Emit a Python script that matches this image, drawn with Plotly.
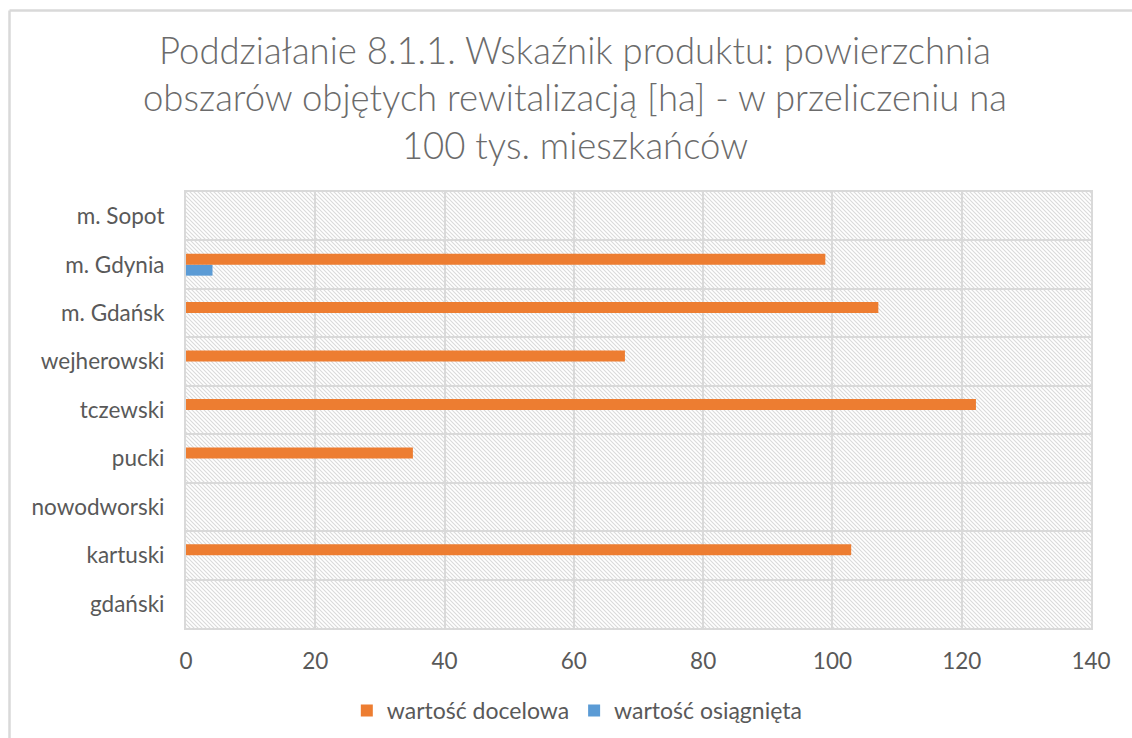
import base64
import plotly.graph_objects as go

# Categories listed bottom-to-top on the vertical axis
powiaty = ["gdański", "kartuski", "nowodworski", "pucki", "tczewski",
           "wejherowski", "m. Gdańsk", "m. Gdynia", "m. Sopot"]
wartosc_docelowa = [0, 102.9, 0, 35.1, 122.2, 67.9, 107.1, 98.9, 0]
wartosc_osiagnieta = [0, 0, 0, 0, 0, 0, 0, 4.1, 0]
x_ticks = [0, 20, 40, 60, 80, 100, 120, 140]

W, H = 1132, 738
L, R, T, B = 186, 41, 192, 110
PW, PH = W - L - R, H - T - B

ORANGE = "#ED7D31"
BLUE = "#5B9BD5"
TEXT = "#595959"
GRID = "#d9d9d9"
FONT = "Lato, 'Open Sans', sans-serif"

# light diagonal hatch for the plotting area
hatch_svg = f"""<svg xmlns='http://www.w3.org/2000/svg' width='{PW}' height='{PH}'>
<defs><pattern id='h' width='4' height='4' patternUnits='userSpaceOnUse'>
<rect width='4' height='4' fill='white'/>
<path d='M-1,-1 L5,5 M-1,3 L1,5 M3,-1 L5,1' stroke='#dadada' stroke-width='1.1'/>
</pattern></defs>
<rect width='{PW}' height='{PH}' fill='url(#h)'/></svg>"""
hatch_uri = "data:image/svg+xml;base64," + base64.b64encode(hatch_svg.encode()).decode()


def px_x(px):
    return (px - L) / PW


def px_y(py):
    return (H - B - py) / PH


fig = go.Figure()
fig.add_trace(go.Bar(
    y=powiaty, x=wartosc_osiagnieta, orientation="h",
    name="wartość osiągnięta", marker=dict(color=BLUE, line=dict(width=0)),
))
fig.add_trace(go.Bar(
    y=powiaty, x=wartosc_docelowa, orientation="h",
    name="wartość docelowa", marker=dict(color=ORANGE, line=dict(width=0)),
))

fig.update_layout(
    width=W, height=H,
    margin=dict(l=L, r=R, t=T, b=B, autoexpand=False),
    paper_bgcolor="white", plot_bgcolor="white",
    barmode="group", bargap=0.546, bargroupgap=0,
    font=dict(family=FONT, color=TEXT, size=22.5),
    title=dict(
        text="Poddziałanie 8.1.1. Wskaźnik produktu: powierzchnia<br>"
             "obszarów objętych rewitalizacją [ha] - w przeliczeniu na<br>"
             "100 tys. mieszkańców",
        x=575 / W, xanchor="center", xref="container",
        y=1 - 64 / H, yanchor="top", yref="container",
        font=dict(family=FONT, size=36.5, color="#6b6b6b", weight=300),
    ),
    legend=dict(
        orientation="h", traceorder="reversed",
        x=0.51, xanchor="center", xref="container",
        y=1 - 689 / H, yanchor="top", yref="container",
        font=dict(size=23, color=TEXT), itemwidth=30,
    ),
    xaxis=dict(
        range=[0, 140], tickvals=x_ticks, showgrid=True, gridcolor=GRID, gridwidth=2,
        zeroline=False, showline=True, linecolor=GRID, linewidth=2, mirror=True,
        ticks="", ticklabelstandoff=12, fixedrange=True,
        tickfont=dict(size=22.5),
    ),
    yaxis=dict(
        type="category", categoryorder="array", categoryarray=powiaty,
        tickson="boundaries", showgrid=True, gridcolor=GRID, gridwidth=2,
        showline=True, linecolor=GRID, linewidth=2, mirror=True,
        ticks="", ticklabelstandoff=15, fixedrange=True,
    ),
    images=[dict(
        source=hatch_uri, xref="paper", yref="paper", x=0, y=1,
        sizex=1, sizey=1, xanchor="left", yanchor="top",
        sizing="stretch", layer="below",
    )],
    shapes=[
        # outer chart frame (left and top edges visible)
        dict(type="line", xref="paper", yref="paper",
             x0=px_x(9.5), x1=px_x(9.5), y0=px_y(10.5), y1=px_y(H + 20),
             line=dict(color=GRID, width=2.5)),
        dict(type="line", xref="paper", yref="paper",
             x0=px_x(9.5), x1=px_x(W + 20), y0=px_y(10.5), y1=px_y(10.5),
             line=dict(color=GRID, width=2.5)),
    ],
    showlegend=True,
)

fig.write_html("out.html")
